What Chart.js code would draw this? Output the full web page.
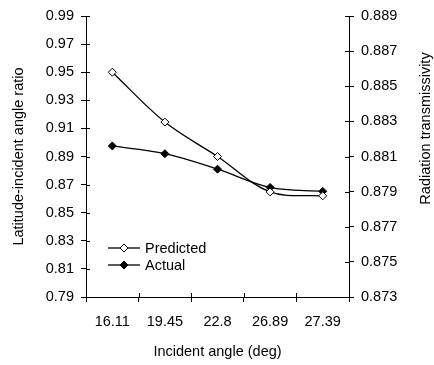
<!DOCTYPE html>
<html>
<head>
<meta charset="utf-8">
<script src="https://cdn.jsdelivr.net/npm/chart.js@4/dist/chart.umd.min.js"></script>
<style>
html,body{margin:0;padding:0;background:#fff;}
#wrap{width:434px;height:365px;position:relative;}
</style>
</head>
<body>
<div id="wrap"><canvas id="c" width="434" height="365"></canvas></div>
<script>
const categories = ['16.11', '19.45', '22.8', '26.89', '27.39'];
const predicted = [0.950, 0.9145, 0.890, 0.8648, 0.862];
const actual = [0.8975, 0.892, 0.881, 0.868, 0.8652];
const leftTicks = { min: 0.79, max: 0.99, step: 0.02 };
const rightTicks = { min: 0.873, max: 0.889, step: 0.002 };
const xTitle = 'Incident angle (deg)';
const yTitle = 'Latitude-incident angle ratio';
const y1Title = 'Radiation transmissivity';

const FONT = "'Liberation Sans', Arial, sans-serif";
const FS = 14.5;

// inner half of cross tick marks
const crossTicks = {
  id: 'crossTicks',
  afterDraw(chart) {
    const ctx = chart.ctx;
    ctx.save();
    ctx.strokeStyle = '#000';
    ctx.lineWidth = 1;
    const L = 4;
    const sy = chart.scales.y, sy1 = chart.scales.y1, sx = chart.scales.x;
    ctx.beginPath();
    sy.ticks.forEach((t, i) => {
      const p = Math.round(sy.getPixelForTick(i)) + 0.5;
      ctx.moveTo(sy.right, p); ctx.lineTo(sy.right + L, p);
    });
    sy1.ticks.forEach((t, i) => {
      const p = Math.round(sy1.getPixelForTick(i)) + 0.5;
      ctx.moveTo(sy1.left, p); ctx.lineTo(sy1.left - L, p);
    });
    for (let i = 0; i <= sx.ticks.length; i++) {
      const p = Math.round(sx.getPixelForValue(i - 0.5)) + 0.5;
      ctx.moveTo(p, sx.top); ctx.lineTo(p, sx.top - L);
    }
    ctx.stroke();
    ctx.restore();
  }
};

// vertical axis titles, both reading bottom-to-top
const axisTitles = {
  id: 'axisTitles',
  afterDraw(chart) {
    const ctx = chart.ctx;
    const a = chart.chartArea;
    const cy = (a.top + a.bottom) / 2;
    ctx.save();
    ctx.font = FS + 'px ' + FONT;
    ctx.fillStyle = '#000';
    ctx.textAlign = 'center';
    ctx.textBaseline = 'middle';
    [[chart.scales.y.left + 19, yTitle, 0], [chart.scales.y1.left + 77, y1Title, -28]].forEach(([x, t, dy]) => {
      ctx.save();
      ctx.translate(x, cy + dy);
      ctx.rotate(-Math.PI / 2);
      ctx.fillText(t, 0, 0);
      ctx.restore();
    });
    ctx.restore();
  }
};

// legend inside the plot area
const innerLegend = {
  id: 'innerLegend',
  afterDraw(chart) {
    const ctx = chart.ctx;
    const a = chart.chartArea;
    ctx.save();
    ctx.font = FS + 'px ' + FONT;
    ctx.textBaseline = 'middle';
    ctx.fillStyle = '#000';
    chart.data.datasets.forEach((ds, i) => {
      const y = a.top + 232 + i * 17;
      const x0 = a.left + 22;
      ctx.strokeStyle = '#000';
      ctx.lineWidth = 1.3;
      ctx.beginPath();
      ctx.moveTo(x0, y); ctx.lineTo(x0 + 32, y);
      ctx.stroke();
      ctx.lineWidth = 1;
      ctx.fillStyle = ds.pointBackgroundColor;
      ctx.strokeStyle = '#000';
      Chart.helpers.drawPoint(ctx, { pointStyle: 'rectRot', radius: 4, borderWidth: 1 }, x0 + 16, y);
      ctx.fillStyle = '#000';
      ctx.fillText(ds.label, x0 + 37, y + 1);
    });
    ctx.restore();
  }
};

new Chart(document.getElementById('c'), {
  type: 'line',
  data: {
    labels: categories,
    datasets: [
      {
        label: 'Predicted', data: predicted, yAxisID: 'y',
        borderColor: '#000', borderWidth: 1.3, tension: 0.35,
        pointStyle: 'rectRot', pointRadius: 4, pointBorderWidth: 1,
        pointBackgroundColor: '#fff', pointBorderColor: '#000'
      },
      {
        label: 'Actual', data: actual, yAxisID: 'y',
        borderColor: '#000', borderWidth: 1.3, tension: 0.35,
        pointStyle: 'rectRot', pointRadius: 4, pointBorderWidth: 1,
        pointBackgroundColor: '#000', pointBorderColor: '#000'
      }
    ]
  },
  options: {
    responsive: false,
    animation: false,
    layout: { padding: { top: 16, left: 0, right: 0, bottom: 0 } },
    plugins: { legend: { display: false }, tooltip: { enabled: false } },
    scales: {
      x: {
        offset: true,
        grid: { offset: true, drawOnChartArea: false, color: '#000', tickLength: 5, tickColor: '#000' },
        border: { color: '#000', width: 1 },
        ticks: { color: '#000', font: { family: FONT, size: FS }, padding: 11, maxRotation: 0 },
        title: { display: true, text: xTitle, color: '#000', font: { family: FONT, size: FS }, padding: { top: 8 } },
        afterFit(s) { s.height = 68; }
      },
      y: {
        position: 'left',
        min: leftTicks.min, max: leftTicks.max,
        grid: { drawOnChartArea: false, color: '#000', tickLength: 5 },
        border: { color: '#000', width: 1 },
        ticks: { stepSize: leftTicks.step, color: '#000', font: { family: FONT, size: FS }, padding: 7,
          callback: v => v.toFixed(2) },
        title: { display: false, text: yTitle },
        afterFit(s) { s.width = 86; }
      },
      y1: {
        position: 'right',
        min: rightTicks.min, max: rightTicks.max,
        grid: { drawOnChartArea: false, color: '#000', tickLength: 5 },
        border: { color: '#000', width: 1 },
        ticks: { stepSize: rightTicks.step, color: '#000', font: { family: FONT, size: FS }, padding: 7,
          callback: v => v.toFixed(3) },
        title: { display: false, text: y1Title },
        afterFit(s) { s.width = 85; }
      }
    }
  },
  plugins: [crossTicks, axisTitles, innerLegend]
});
</script>
</body>
</html>
